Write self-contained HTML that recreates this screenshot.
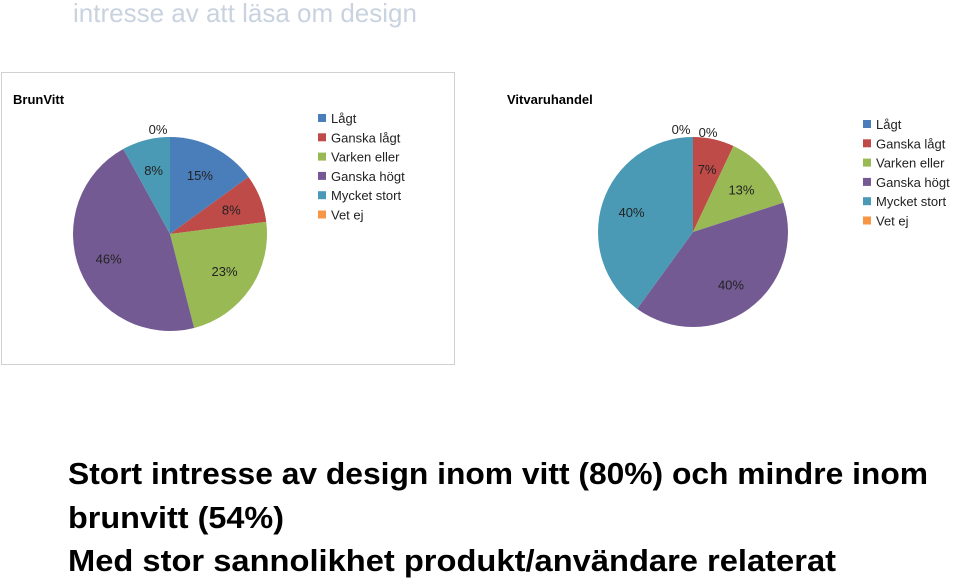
<!DOCTYPE html>
<html><head><meta charset="utf-8"><style>
body{margin:0;background:#fff;}
svg{display:block;font-family:"Liberation Sans",sans-serif;}
</style></head><body>
<svg id="s" width="960" height="580" viewBox="0 0 960 580">
<text x="73" y="22" font-size="26" fill="#c9d3e0">intresse av att läsa om design</text>
<rect x="1.5" y="72.5" width="453" height="292" fill="#fff" stroke="#d0d0d0"/>
<text x="13" y="104" font-size="13" font-weight="bold">BrunVitt</text>
<text x="507" y="104" font-size="13" font-weight="bold">Vitvaruhandel</text>
<g id="p1"></g><g id="p2"></g><g id="l1"></g><g id="l2"></g>
<g font-weight="bold" font-size="31" fill="#000">
<text x="68" y="484" textLength="860" lengthAdjust="spacingAndGlyphs">Stort intresse av design inom vitt (80%) och mindre inom</text>
<text x="68" y="528" textLength="216" lengthAdjust="spacingAndGlyphs">brunvitt (54%)</text>
<text x="68" y="571" textLength="768" lengthAdjust="spacingAndGlyphs">Med stor sannolikhet produkt/användare relaterat</text>
</g>
</svg>
<script>
const categories=["Lågt","Ganska lågt","Varken eller","Ganska högt"," Mycket stort","Vet ej"];
const brunvittValues=[15,8,23,46,8,0];
const vitvaruValues=[0,7,13,40,40,0];
const colors=["#4A7EBB","#BE4B48","#98B954","#745A93","#4A9AB5","#F79646"];
const NS="http://www.w3.org/2000/svg";
function mk(t,a,p){const e=document.createElementNS(NS,t);for(const k in a)e.setAttribute(k,a[k]);p.appendChild(e);return e;}
function pie(gid,vals,cx,cy,r,name){
  const g=document.getElementById(gid);
  const tot=vals.reduce((a,b)=>a+b,0);let a0=0;let zi=0;
  vals.forEach((v,i)=>{
    const a1=a0+v/tot*2*Math.PI;
    const pt=a=>[cx+r*Math.sin(a),cy-r*Math.cos(a)];
    if(v>0){
      const [x0,y0]=pt(a0),[x1,y1]=pt(a1);
      const p=mk("path",{d:`M${cx},${cy}L${x0},${y0}A${r},${r} 0 ${a1-a0>Math.PI?1:0} 1 ${x1},${y1}Z`,fill:colors[i]},g);
      
      
    }
    const m=(a0+a1)/2;let lr=v>0?r*0.68:r+12;
    let lx=cx+lr*Math.sin(m),ly=cy-lr*Math.cos(m);
    if(v===0){lx=cx-12+zi*27;ly=cy-r-8+zi*3;zi++;}
    const t=mk("text",{x:lx,y:ly+5,"font-size":13,"text-anchor":"middle",fill:"#222"},g);
    t.textContent=v+"%";
    
    
    a0=a1;
  });
}
function legend(gid,x,y,name){
  const g=document.getElementById(gid);
  categories.forEach((c,i)=>{
    const yy=y+i*19.3;
    const r=mk("rect",{x:x,y:yy-4,width:8,height:8,fill:colors[i]},g);
    
    
    const t=mk("text",{x:x+13,y:yy+5,"font-size":13,fill:"#222"},g);
    t.textContent=c;
    
    
  });
}
pie("p1",brunvittValues,170,234,97,"brunvitt");
pie("p2",vitvaruValues,693,232,95,"vitvaru");
legend("l1",318,118,"brunvitt");
legend("l2",863,124,"vitvaru");
</script>
</body></html>
